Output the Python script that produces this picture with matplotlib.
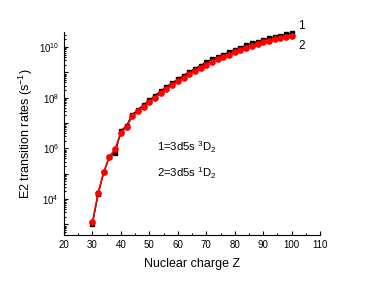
import numpy as np
import matplotlib
matplotlib.use("Agg")
import matplotlib.pyplot as plt
from matplotlib.ticker import LogLocator, FixedLocator, NullFormatter, FuncFormatter, MultipleLocator

plt.rcParams['font.family'] = ['Liberation Sans', 'DejaVu Sans']
plt.rcParams['mathtext.fontset'] = 'custom'
plt.rcParams['mathtext.rm'] = 'Liberation Sans'
plt.rcParams['mathtext.it'] = 'Liberation Sans:italic'

Z = list(range(30, 101, 2))
log_rate_1 = [3.02, 4.20, 5.06, 5.68, 5.82, 6.68, 6.90, 7.33, 7.53, 7.72, 7.90, 8.08,
              8.26, 8.43, 8.58, 8.72, 8.87, 9.02, 9.14, 9.27, 9.40, 9.51, 9.60, 9.70,
              9.80, 9.89, 9.98, 10.06, 10.14, 10.21, 10.28, 10.34, 10.40, 10.45, 10.50, 10.54]
log_rate_2 = [3.08, 4.24, 5.07, 5.68, 5.97, 6.62, 6.86, 7.27, 7.46, 7.65, 7.83, 8.00,
              8.18, 8.35, 8.50, 8.64, 8.79, 8.94, 9.05, 9.18, 9.31, 9.42, 9.51, 9.60,
              9.70, 9.79, 9.88, 9.96, 10.04, 10.11, 10.18, 10.24, 10.30, 10.35, 10.40, 10.44]
rate_1 = [10 ** v for v in log_rate_1]
rate_2 = [10 ** v for v in log_rate_2]

fig = plt.figure(figsize=(3.74, 2.86), dpi=100)
ax = fig.add_axes([0.171, 0.178, 0.685, 0.709])

ax.plot(Z, rate_1, color='black', marker='s', markersize=3.4, linewidth=1.0, clip_on=False, zorder=3)
ax.plot(Z, rate_2, color='red', marker='o', markersize=3.8, linewidth=1.2, clip_on=False, zorder=4)

ax.set_yscale('log')
ax.set_xlim(20, 110)
ax.set_ylim(10 ** 2.58, 10 ** 10.58)

ax.xaxis.set_major_locator(MultipleLocator(10))
ax.xaxis.set_minor_locator(MultipleLocator(5))
ax.yaxis.set_major_locator(FixedLocator([10.0 ** k for k in range(3, 11)]))
ax.yaxis.set_minor_locator(LogLocator(base=10, subs=np.arange(2, 10), numticks=20))
ax.yaxis.set_minor_formatter(NullFormatter())

def yfmt(v, pos):
    k = int(round(np.log10(v)))
    return r'$10^{%d}$' % k if k % 2 == 0 else ''
ax.yaxis.set_major_formatter(FuncFormatter(yfmt))

ax.spines['top'].set_visible(False)
ax.spines['right'].set_visible(False)
ax.tick_params(which='both', direction='in', labelsize=7, width=0.8)
ax.tick_params(which='major', length=3)
ax.tick_params(which='minor', length=1.6)

ax.set_xlabel('Nuclear charge Z', fontsize=9, labelpad=6)
ax.set_ylabel('E2 transition rates (s$^{-1}$)', fontsize=9, labelpad=3)

ax.text(52.7, 10 ** 6.05, r'1=3d5s $^3$D$_2$', fontsize=8.2, va='center', ha='left')
ax.text(52.7, 10 ** 5.03, r'2=3d5s $^1$D$_2$', fontsize=8.2, va='center', ha='left')
ax.text(102.2, 10 ** 10.84, '1', fontsize=8.5, va='center', ha='left', clip_on=False)
ax.text(102.4, 10 ** 10.05, '2', fontsize=8.5, va='center', ha='left', clip_on=False)

fig.savefig('out.png', dpi=100)
